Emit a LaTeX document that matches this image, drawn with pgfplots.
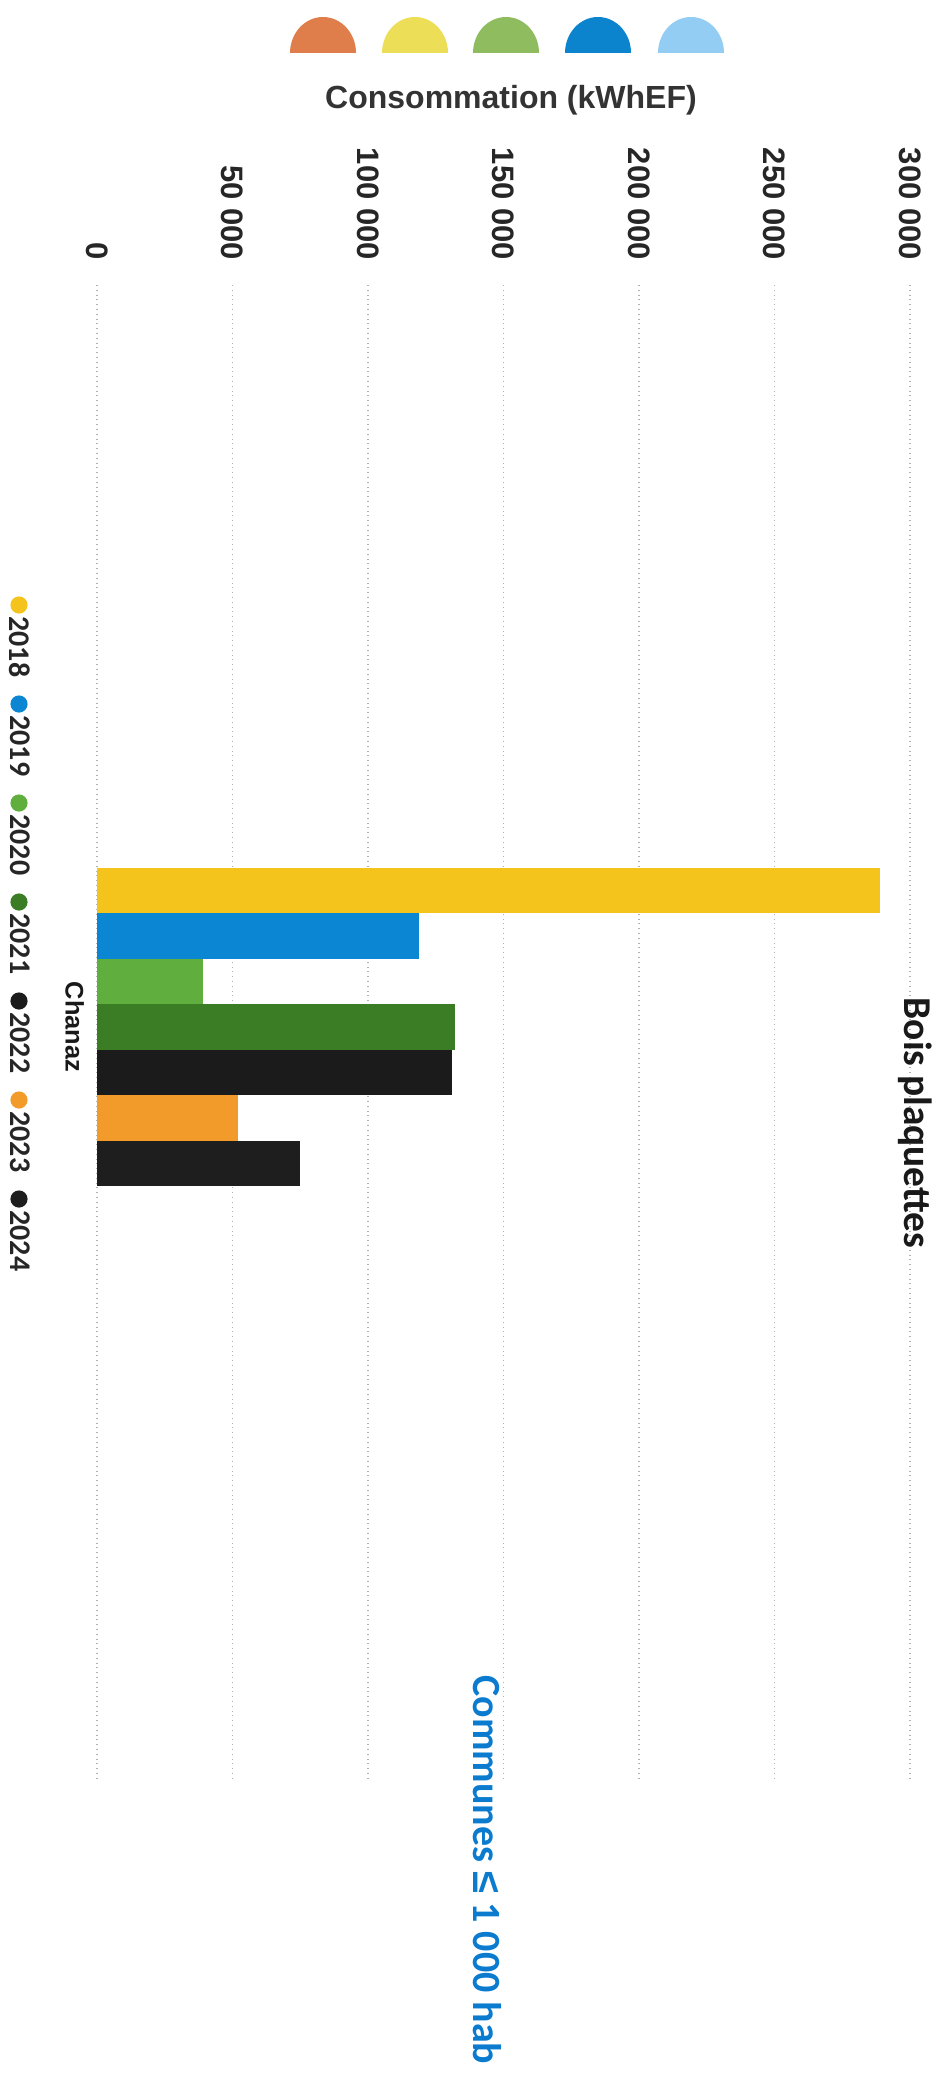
\documentclass[border=0pt]{standalone}
\usepackage{fontspec}
\setmainfont{Liberation Sans}
\newfontfamily\calfont{Carlito}
\usepackage{pgfplots}
\pgfplotsset{compat=1.18}
\definecolor{c2018}{HTML}{F4C41C}
\definecolor{c2019}{HTML}{0A86D2}
\definecolor{c2020}{HTML}{5FAE3E}
\definecolor{c2021}{HTML}{3B7D25}
\definecolor{c2022}{HTML}{1B1B1B}
\definecolor{c2023}{HTML}{F29A2A}
\definecolor{c2024}{HTML}{1E1E1E}
\definecolor{subblue}{HTML}{0A7BCE}
\definecolor{d1}{HTML}{DF7E4A}
\definecolor{d2}{HTML}{ECDE57}
\definecolor{d3}{HTML}{8FBC5F}
\definecolor{d4}{HTML}{0B84CD}
\definecolor{d5}{HTML}{93CDF3}
\begin{document}
\begin{tikzpicture}
\useasboundingbox (0,0) rectangle (472.5pt,-1041pt);
\begin{axis}[
  at={(48.5pt,-142.5pt)}, anchor=north west,
  scale only axis, width=406.5pt, height=747.5pt,
  xmin=0, xmax=300000, ymin=-13.33, ymax=19.575, y dir=reverse,
  xtick={0,50000,100000,150000,200000,250000,300000},
  xticklabels={0,50 000,100 000,150 000,200 000,250 000,300 000},
  scaled x ticks=false, xticklabel pos=upper,
  xticklabel style={rotate=-90, anchor=east, font=\fontsize{15.5}{18}\selectfont\bfseries, text=black!85},
  xticklabel shift=9pt,
  ytick={3}, yticklabels={Chanaz},
  yticklabel style={rotate=-90, anchor=north, font=\fontsize{12.7}{15}\selectfont\bfseries, text=black!90},
  yticklabel shift=3pt,
  major tick length=0pt, axis line style={draw=none},
  xmajorgrids, grid style={dotted, black!30, line width=0.6pt},
  clip=false]
\addplot[xbar, bar shift=0pt, bar width=1, fill=c2018, draw=none] coordinates {(289000,0)};
\addplot[xbar, bar shift=0pt, bar width=1, fill=c2019, draw=none] coordinates {(119000,1)};
\addplot[xbar, bar shift=0pt, bar width=1, fill=c2020, draw=none] coordinates {(39000,2)};
\addplot[xbar, bar shift=0pt, bar width=1, fill=c2021, draw=none] coordinates {(132000,3)};
\addplot[xbar, bar shift=0pt, bar width=1, fill=c2022, draw=none] coordinates {(131000,4)};
\addplot[xbar, bar shift=0pt, bar width=1, fill=c2023, draw=none] coordinates {(52000,5)};
\addplot[xbar, bar shift=0pt, bar width=1, fill=c2024, draw=none] coordinates {(75000,6)};
\end{axis}
\begin{scope}[x=0.5pt,y=-0.5pt]
  \foreach \cx/\col in {323/d1,415/d2,506/d3,598/d4,691/d5}
    \fill[\col] (\cx-33,53) arc[start angle=180,end angle=0,x radius=16.5pt,y radius=18pt] -- cycle;
  \node[font=\bfseries\fontsize{16}{19}\selectfont, text=black!80] at (511,100) {Consommation (kWhEF)};
  \node[rotate=-90, font=\calfont\bfseries\fontsize{19.7}{23}\selectfont, text=black!90] at (915,1123) {Bois plaquettes};
  \node[rotate=-90, font=\calfont\bfseries\fontsize{20}{24}\selectfont, text=subblue] at (487,1870) {Communes {\rmfamily ≤} 1 000 hab};
  \foreach \i/\yr/\col in {0/2018/c2018,1/2019/c2019,2/2020/c2020,3/2021/c2021,4/2022/c2022,5/2023/c2023,6/2024/c2024}{
    \fill[\col] (19,{605+99*\i}) circle[radius=4.3pt];
    \node[rotate=-90, anchor=west, inner sep=0pt, font=\calfont\bfseries\fontsize{15}{18}\selectfont, text=black!85] at (20,{616+99*\i}) {\yr};
  }
\end{scope}
\end{tikzpicture}
\end{document}
